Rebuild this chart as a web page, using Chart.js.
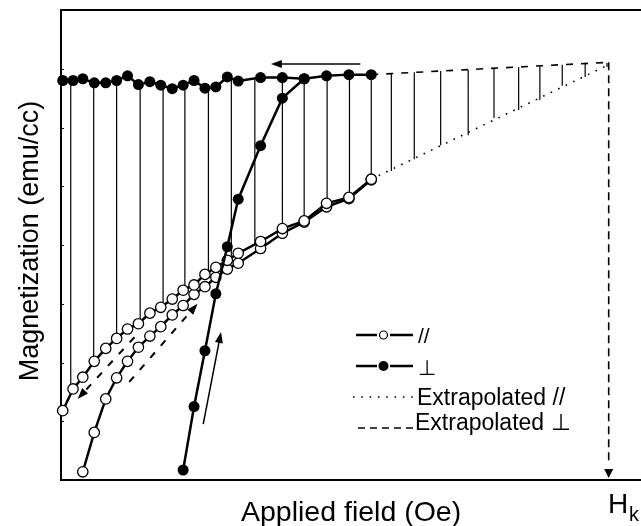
<!DOCTYPE html>
<html>
<head>
<meta charset="utf-8">
<script src="https://cdn.jsdelivr.net/npm/chart.js@4.4.0/dist/chart.umd.min.js"></script>
<style>
html, body { margin: 0; padding: 0; background: #fff; }
#wrap { width: 641px; height: 526px; }
</style>
</head>
<body>
<div id="wrap"><canvas id="chart" width="641" height="526"></canvas></div>
<script>
// field values (arb. units) for the decreasing-field branches, high -> low
var fieldDown = [5.41, 5.02, 4.63, 4.24, 3.86, 3.48, 3.09, 2.90, 2.70, 2.51, 2.32, 2.13,
                 1.94, 1.74, 1.55, 1.35, 1.16, 0.97, 0.78, 0.58, 0.38, 0.21, 0.03];
var perpDown = [6.90, 6.90, 6.88, 6.83, 6.85, 6.85, 6.79, 6.86, 6.69, 6.67, 6.80, 6.72,
                6.66, 6.72, 6.78, 6.73, 6.88, 6.80, 6.76, 6.76, 6.83, 6.80, 6.80];
var parDown = [5.12, 4.81, 4.71, 4.41, 4.28, 4.06, 3.86, 3.74, 3.62, 3.50, 3.32, 3.23,
               3.08, 2.94, 2.84, 2.66, 2.57, 2.41, 2.24, 2.02, 1.75, 1.55, 1.18];

// increasing-field branches, low -> high
var fieldParUp = [0.38, 0.58, 0.78, 0.97, 1.16, 1.35, 1.55, 1.74, 1.94, 2.13, 2.32,
                  2.51, 2.70, 2.90, 3.09, 3.48, 3.86, 4.24, 4.63, 5.02, 5.41];
var parUp = [0.14, 0.81, 1.38, 1.74, 2.02, 2.26, 2.45, 2.61, 2.81, 2.97, 3.16,
             3.29, 3.45, 3.59, 3.69, 3.94, 4.20, 4.39, 4.65, 4.79, 5.11];
var fieldPerpUp = [2.13, 2.32, 2.51, 2.70, 2.90, 3.09, 3.48, 3.86, 4.24];
var perpUp = [0.17, 1.25, 2.20, 3.17, 3.97, 4.78, 5.69, 6.50, 6.83];

// extrapolation towards the anisotropy field
var extrapField = [5.41, 9.55];
var extrapPar = [5.12, 7.07];
var extrapPerp = [6.90, 7.11];
var hkField = 9.55;

// vertical lines between the two curves
var stemField = [0.17, 0.57, 0.97, 1.38, 1.78, 2.16, 2.57, 2.97, 3.38, 3.86, 4.24, 4.64,
                 5.03, 5.41, 5.76, 6.16, 6.62, 7.10, 7.55, 7.98, 8.35, 8.74, 9.14, 9.52];
var stemTop = [6.80, 6.76, 6.80, 6.73, 6.72, 6.72, 6.67, 6.86, 6.82, 6.85, 6.83, 6.88,
               6.90, 6.90, 6.92, 6.94, 6.96, 6.98, 7.00, 7.03, 7.05, 7.07, 7.09, 7.10];
var stemBottom = [1.55, 2.02, 2.40, 2.66, 2.94, 3.23, 3.56, 3.80, 4.00, 4.28, 4.41, 4.71,
                  4.81, 5.12, 5.26, 5.46, 5.70, 5.87, 6.16, 6.30, 6.47, 6.71, 6.86, 7.03];

var yTicks = [0, 1, 2, 3, 4, 5, 6, 7, 8];

// direction arrows: [fromField, fromM, toField, toM, dashed]
var arrows = [
    [5.22, 7.08, 3.66, 7.08, false],
    [2.48, 0.95, 2.79, 2.52, false],
    [1.28, 2.43, 0.29, 1.38, true],
    [1.19, 1.67, 2.38, 3.00, true]
];

var FONT = '"Liberation Sans", Arial, sans-serif';

function pts(xs, ys) {
    var out = [];
    for (var i = 0; i < xs.length; i++) out.push({x: xs[i], y: ys[i]});
    return out;
}

function stemPts() {
    var out = [];
    for (var i = 0; i < stemField.length; i++) {
        out.push({x: stemField[i], y: stemTop[i]});
        out.push({x: stemField[i], y: stemBottom[i]});
        out.push({x: stemField[i], y: null});
    }
    return out;
}

function arrowHead(ctx, x1, y1, x2, y2, len, hw) {
    var a = Math.atan2(y2 - y1, x2 - x1);
    ctx.beginPath();
    ctx.moveTo(x2, y2);
    ctx.lineTo(x2 - len * Math.cos(a) + hw * Math.sin(a), y2 - len * Math.sin(a) - hw * Math.cos(a));
    ctx.lineTo(x2 - len * Math.cos(a) - hw * Math.sin(a), y2 - len * Math.sin(a) + hw * Math.cos(a));
    ctx.closePath();
    ctx.fill();
}

var framePlugin = {
    id: 'frame',
    beforeDatasetsDraw: function (chart) {
        var ctx = chart.ctx, a = chart.chartArea, ys = chart.scales.y;
        ctx.save();
        ctx.strokeStyle = '#000';
        ctx.lineWidth = 2;
        ctx.beginPath();
        ctx.moveTo(641, a.top); ctx.lineTo(a.left, a.top);
        ctx.lineTo(a.left, a.bottom); ctx.lineTo(641, a.bottom);
        ctx.stroke();
        ctx.lineWidth = 1;
        yTicks.forEach(function (v) {
            var py = Math.round(ys.getPixelForValue(v)) + 0.5;
            ctx.beginPath();
            ctx.moveTo(a.left, py); ctx.lineTo(a.left + 3, py);
            ctx.stroke();
        });
        ctx.restore();
    },
    afterDatasetsDraw: function (chart) {
        var ctx = chart.ctx, xs = chart.scales.x, ys = chart.scales.y;
        ctx.save();
        ctx.strokeStyle = '#000';
        ctx.fillStyle = '#000';

        // arrows
        arrows.forEach(function (r) {
            var x1 = xs.getPixelForValue(r[0]), y1 = ys.getPixelForValue(r[1]);
            var x2 = xs.getPixelForValue(r[2]), y2 = ys.getPixelForValue(r[3]);
            var a = Math.atan2(y2 - y1, x2 - x1);
            ctx.lineWidth = r[4] ? 2 : 1.5;
            ctx.setLineDash(r[4] ? [7, 9] : []);
            ctx.beginPath();
            ctx.moveTo(x1, y1);
            ctx.lineTo(x2 - 9 * Math.cos(a), y2 - 9 * Math.sin(a));
            ctx.stroke();
            ctx.setLineDash([]);
            arrowHead(ctx, x1, y1, x2, y2, 11, 4);
        });

        // H_k arrow head
        var hx = xs.getPixelForValue(hkField), hy = ys.getPixelForValue(0);
        arrowHead(ctx, hx, hy - 20, hx, hy - 2, 9, 4.5);

        // legend
        var lx = 356, rows = [335, 366, 397, 428];
        ctx.lineWidth = 2.5;
        [0, 1].forEach(function (i) {
            ctx.beginPath();
            ctx.moveTo(lx, rows[i]); ctx.lineTo(lx + 21, rows[i]);
            ctx.moveTo(lx + 34, rows[i]); ctx.lineTo(lx + 57, rows[i]);
            ctx.stroke();
        });
        ctx.lineWidth = 1.2;
        ctx.fillStyle = '#fff';
        ctx.beginPath(); ctx.arc(lx + 27.5, rows[0], 4, 0, Math.PI * 2); ctx.fill(); ctx.stroke();
        ctx.fillStyle = '#000';
        ctx.beginPath(); ctx.arc(lx + 27.5, rows[1], 5, 0, Math.PI * 2); ctx.fill();
        ctx.lineWidth = 1.6;
        ctx.setLineDash([1.6, 6.7]);
        ctx.beginPath(); ctx.moveTo(lx - 3, rows[2]); ctx.lineTo(lx + 57, rows[2]); ctx.stroke();
        ctx.setLineDash([7, 5]);
        ctx.beginPath(); ctx.moveTo(lx + 2, rows[3]); ctx.lineTo(lx + 59, rows[3]); ctx.stroke();
        ctx.setLineDash([]);

        ctx.textAlign = 'left';
        ctx.textBaseline = 'alphabetic';
        ctx.font = '21px ' + FONT;
        ctx.fillText('//', 418, 343);
        ctx.fillText('\u22a5', 418, 375);
        ctx.font = '23px ' + FONT;
        ctx.fillText('Extrapolated //', 417, 405);
        ctx.fillText('Extrapolated \u22a5', 415, 430);

        // axis titles
        ctx.font = '28.5px ' + FONT;
        ctx.fillText('Applied field (Oe)', 241, 521);
        ctx.font = '28px ' + FONT;
        ctx.fillText('H', 608, 513);
        ctx.font = '20px ' + FONT;
        ctx.fillText('k', 629, 521);

        ctx.save();
        ctx.translate(38, 241);
        ctx.rotate(-Math.PI / 2);
        ctx.textAlign = 'center';
        ctx.font = '27px ' + FONT;
        ctx.fillText('Magnetization (emu/cc)', 0, 0);
        ctx.restore();

        ctx.restore();
    }
};

var openPoint = {
    borderColor: '#000', backgroundColor: '#fff', pointBackgroundColor: '#fff',
    pointBorderColor: '#000', pointBorderWidth: 1.3, pointRadius: 5.2,
    borderWidth: 2.5, showLine: true, clip: false, order: 2
};
var fullPoint = {
    borderColor: '#000', backgroundColor: '#000', pointBackgroundColor: '#000',
    pointBorderColor: '#000', pointBorderWidth: 0, pointRadius: 5.5,
    borderWidth: 2.5, showLine: true, clip: false, order: 1
};

new Chart(document.getElementById('chart'), {
    type: 'scatter',
    data: {
        datasets: [
            Object.assign({label: '\u22a5 down', data: pts(fieldDown, perpDown)}, fullPoint),
            Object.assign({label: '\u22a5 up', data: pts(fieldPerpUp, perpUp)}, fullPoint),
            Object.assign({label: '// down', data: pts(fieldDown, parDown)}, openPoint),
            Object.assign({label: '// up', data: pts(fieldParUp, parUp)}, openPoint),
            {
                label: 'Extrapolated //', data: pts(extrapField, extrapPar), showLine: true,
                borderColor: '#000', borderWidth: 1.6, borderDash: [1.6, 6.7], pointRadius: 0, order: 5
            },
            {
                label: 'Extrapolated \u22a5', data: pts(extrapField, extrapPerp), showLine: true,
                borderColor: '#000', borderWidth: 1.6, borderDash: [7, 8], pointRadius: 0, order: 5
            },
            {
                label: 'Hk', data: [{x: hkField, y: extrapPerp[1]}, {x: hkField, y: 0.25}], showLine: true,
                borderColor: '#000', borderWidth: 1.6, borderDash: [8, 5], pointRadius: 0, order: 5
            },
            {
                label: 'stems', data: stemPts(), showLine: true, spanGaps: false,
                borderColor: '#000', borderWidth: 1.2, pointRadius: 0, order: 8
            }
        ]
    },
    options: {
        responsive: false,
        animation: false,
        layout: {padding: {left: 61, top: 10, right: 0, bottom: 46}},
        scales: {
            x: {type: 'linear', display: false, min: 0, max: 10},
            y: {type: 'linear', display: false, min: 0, max: 8}
        },
        plugins: {legend: {display: false}, tooltip: {enabled: false}}
    },
    plugins: [framePlugin]
});
</script>
</body>
</html>
